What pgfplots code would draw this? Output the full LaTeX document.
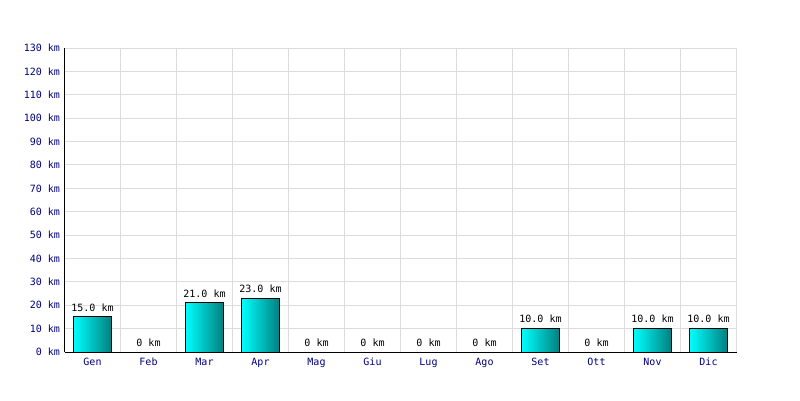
\documentclass[border=0pt]{standalone}
\usepackage{pgfplots}
\pgfplotsset{compat=1.18}
\usepackage{fontspec}
\setmainfont{DejaVu Sans Mono}
\definecolor{navyc}{RGB}{0,0,128}
\definecolor{gridc}{RGB}{220,220,220}
\definecolor{barL}{RGB}{0,255,255}
\definecolor{barR}{RGB}{0,128,128}
\pgfplotsset{mybar/.style={draw=black, line width=1pt, left color=barL, right color=barR, bar shift=0pt}}
\begin{document}
\begin{tikzpicture}[x=1pt,y=1pt]
\useasboundingbox (-64.5,-48) rectangle (735.5,352);
\begin{axis}[
  at={(0,0)}, anchor=south west,
  scale only axis, width=672pt, height=304pt,
  xmin=-0.5, xmax=11.5, ymin=0, ymax=130,
  axis lines=left, axis line style={-, black},
  xtick={0,...,11},
  xticklabels={Gen,Feb,Mar,Apr,Mag,Giu,Lug,Ago,Set,Ott,Nov,Dic},
  minor xtick={-0.5,0.5,...,11.5},
  ytick={0,10,...,130},
  yticklabel={\pgfmathprintnumber{\tick}~km},
  /pgf/number format/assume math mode=true,
  xmajorgrids=false, xminorgrids=true, ymajorgrids=true,
  grid style={gridc, line width=1pt},
  minor grid style={gridc, line width=1pt},
  major tick length=0pt, minor tick length=0pt,
  tick label style={font=\fontsize{10}{12}\selectfont, text=navyc},
  xticklabel style={anchor=north, text height=7.5pt, text depth=2pt, yshift=-2.5pt},
  yticklabel style={xshift=-1pt},
  ybar, bar width=38pt,
  point meta=explicit symbolic,
  nodes near coords,
  every node near coord/.append style={font=\fontsize{10}{12}\selectfont, text=black, text height=7.5pt, text depth=2pt, yshift=0pt},
  clip=false,
]
\addplot[mybar] coordinates {(0,15) [15.0 km]};
\addplot[mybar] coordinates {(1,0) [0 km]};
\addplot[mybar] coordinates {(2,21) [21.0 km]};
\addplot[mybar] coordinates {(3,23) [23.0 km]};
\addplot[mybar] coordinates {(4,0) [0 km]};
\addplot[mybar] coordinates {(5,0) [0 km]};
\addplot[mybar] coordinates {(6,0) [0 km]};
\addplot[mybar] coordinates {(7,0) [0 km]};
\addplot[mybar] coordinates {(8,10) [10.0 km]};
\addplot[mybar] coordinates {(9,0) [0 km]};
\addplot[mybar] coordinates {(10,10) [10.0 km]};
\addplot[mybar] coordinates {(11,10) [10.0 km]};
\end{axis}
\end{tikzpicture}
\end{document}
